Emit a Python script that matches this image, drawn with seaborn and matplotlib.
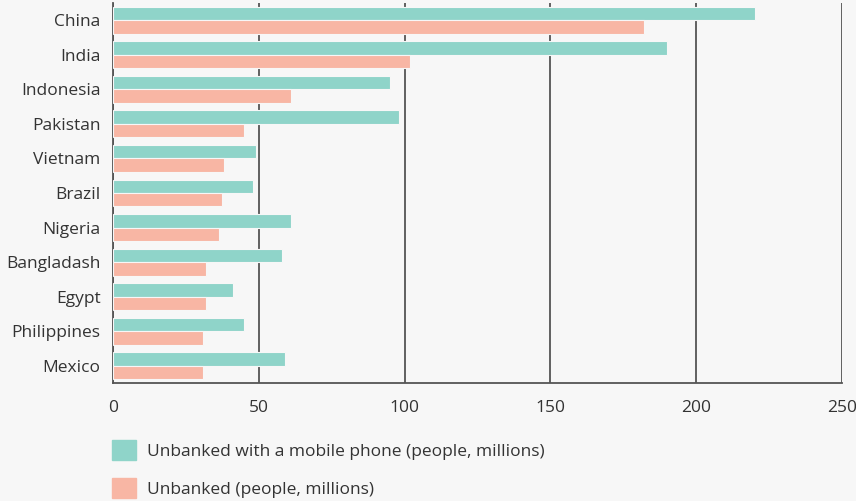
import pandas as pd
import numpy as np
import matplotlib
matplotlib.use("Agg")
import matplotlib.pyplot as plt
import seaborn as sns

countries = ["China", "India", "Indonesia", "Pakistan", "Vietnam", "Brazil",
             "Nigeria", "Bangladash", "Egypt", "Philippines", "Mexico"]
mobile = [220, 190, 95, 98, 49, 48, 61, 58, 41, 45, 59]
unbanked = [182, 102, 61, 45, 38, 37.5, 36.5, 32, 32, 31, 31]
series = ["Unbanked with a mobile phone (people, millions)",
          "Unbanked (people, millions)"]
colors = ["#8fd4c9", "#f8b6a4"]
bg = "#f7f7f7"

df = pd.DataFrame({
    "country": countries * 2,
    "value": mobile + unbanked,
    "series": [series[0]] * len(countries) + [series[1]] * len(countries),
})

sns.set_theme(style="white")
plt.rcParams["font.family"] = ["Open Sans", "DejaVu Sans"]

fig = plt.figure(figsize=(8.56, 5.01), dpi=100, facecolor=bg)
ax = fig.add_axes([113 / 856, 1 - 383 / 501, (842 - 113) / 856, 380 / 501])
ax.set_facecolor(bg)

sns.barplot(data=df, x="value", y="country", hue="series", orient="h",
            palette=colors, width=0.78, saturation=1, ax=ax, legend=False,
            edgecolor=bg, linewidth=0.8, zorder=3)

ax.set_xlim(0, 250)
ax.set_ylim(10.5, -0.5)
ax.set_xticks([0, 50, 100, 150, 200, 250])
ax.set_xlabel("")
ax.set_ylabel("")
ax.grid(axis="x", color="#555555", linewidth=1.3, zorder=0)
ax.set_axisbelow(False)
for side in ["top", "right"]:
    ax.spines[side].set_visible(False)
for side in ["left", "bottom"]:
    ax.spines[side].set_color("#555555")
    ax.spines[side].set_linewidth(1.3)
ax.tick_params(axis="y", direction="in", length=12, width=1.3,
               color="#444444", labelsize=12.5, labelcolor="#333333", pad=9)
ax.tick_params(axis="x", length=0, labelsize=12.5, labelcolor="#333333", pad=12)

handles = [plt.Rectangle((0, 0), 1, 1, color=c) for c in colors]
fig.legend(handles, series, loc="upper left",
           bbox_to_anchor=(112 / 856, 1 - 440 / 501), frameon=False,
           fontsize=12.5, handlelength=1.4, handleheight=1.4,
           handletextpad=0.6, labelspacing=1.05, borderpad=0,
           borderaxespad=0, labelcolor="#333333")

fig.savefig("out.png", dpi=100, facecolor=bg)
